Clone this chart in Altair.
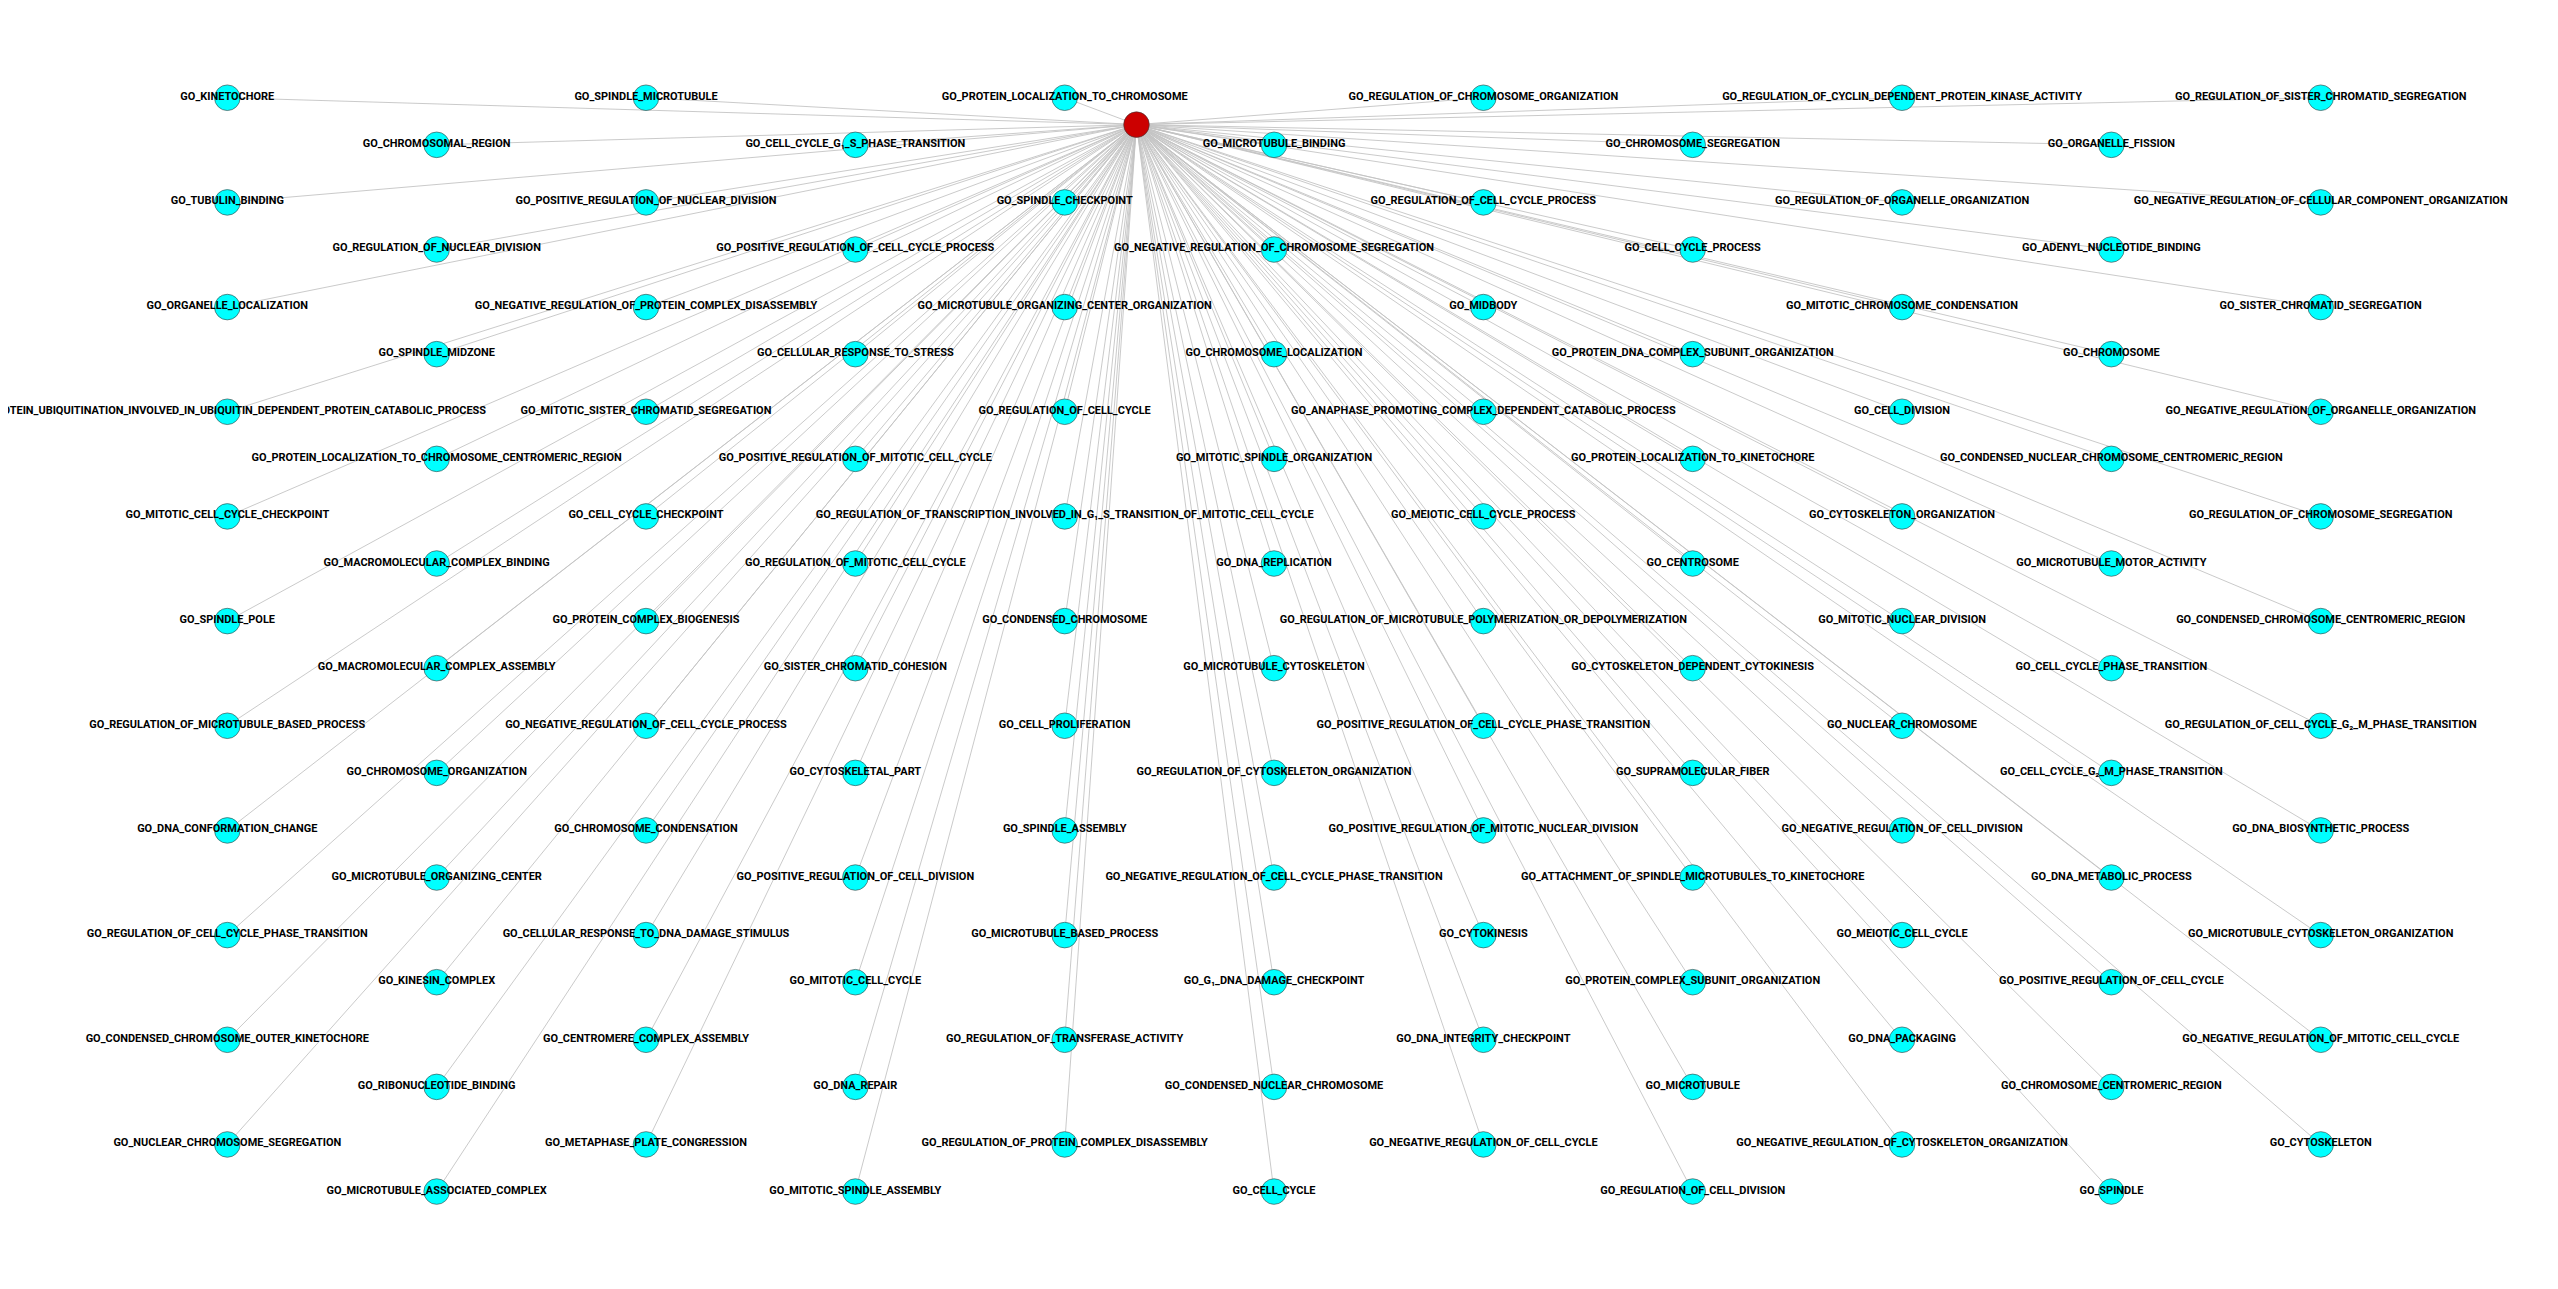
import altair as alt
import pandas as pd

# ---- node names, listed column by column (left to right), top to bottom ----
col1 = ["GO_KINETOCHORE", "GO_TUBULIN_BINDING", "GO_ORGANELLE_LOCALIZATION",
        "GO_PROTEIN_UBIQUITINATION_INVOLVED_IN_UBIQUITIN_DEPENDENT_PROTEIN_CATABOLIC_PROCESS",
        "GO_MITOTIC_CELL_CYCLE_CHECKPOINT", "GO_SPINDLE_POLE",
        "GO_REGULATION_OF_MICROTUBULE_BASED_PROCESS", "GO_DNA_CONFORMATION_CHANGE",
        "GO_REGULATION_OF_CELL_CYCLE_PHASE_TRANSITION",
        "GO_CONDENSED_CHROMOSOME_OUTER_KINETOCHORE", "GO_NUCLEAR_CHROMOSOME_SEGREGATION"]
col2 = ["GO_CHROMOSOMAL_REGION", "GO_REGULATION_OF_NUCLEAR_DIVISION", "GO_SPINDLE_MIDZONE",
        "GO_PROTEIN_LOCALIZATION_TO_CHROMOSOME_CENTROMERIC_REGION",
        "GO_MACROMOLECULAR_COMPLEX_BINDING", "GO_MACROMOLECULAR_COMPLEX_ASSEMBLY",
        "GO_CHROMOSOME_ORGANIZATION", "GO_MICROTUBULE_ORGANIZING_CENTER",
        "GO_KINESIN_COMPLEX", "GO_RIBONUCLEOTIDE_BINDING", "GO_MICROTUBULE_ASSOCIATED_COMPLEX"]
col3 = ["GO_SPINDLE_MICROTUBULE", "GO_POSITIVE_REGULATION_OF_NUCLEAR_DIVISION",
        "GO_NEGATIVE_REGULATION_OF_PROTEIN_COMPLEX_DISASSEMBLY",
        "GO_MITOTIC_SISTER_CHROMATID_SEGREGATION", "GO_CELL_CYCLE_CHECKPOINT",
        "GO_PROTEIN_COMPLEX_BIOGENESIS", "GO_NEGATIVE_REGULATION_OF_CELL_CYCLE_PROCESS",
        "GO_CHROMOSOME_CONDENSATION", "GO_CELLULAR_RESPONSE_TO_DNA_DAMAGE_STIMULUS",
        "GO_CENTROMERE_COMPLEX_ASSEMBLY", "GO_METAPHASE_PLATE_CONGRESSION"]
col4 = ["GO_CELL_CYCLE_G\u2081_S_PHASE_TRANSITION", "GO_POSITIVE_REGULATION_OF_CELL_CYCLE_PROCESS",
        "GO_CELLULAR_RESPONSE_TO_STRESS", "GO_POSITIVE_REGULATION_OF_MITOTIC_CELL_CYCLE",
        "GO_REGULATION_OF_MITOTIC_CELL_CYCLE", "GO_SISTER_CHROMATID_COHESION",
        "GO_CYTOSKELETAL_PART", "GO_POSITIVE_REGULATION_OF_CELL_DIVISION",
        "GO_MITOTIC_CELL_CYCLE", "GO_DNA_REPAIR", "GO_MITOTIC_SPINDLE_ASSEMBLY"]
col5 = ["GO_PROTEIN_LOCALIZATION_TO_CHROMOSOME", "GO_SPINDLE_CHECKPOINT",
        "GO_MICROTUBULE_ORGANIZING_CENTER_ORGANIZATION", "GO_REGULATION_OF_CELL_CYCLE",
        "GO_REGULATION_OF_TRANSCRIPTION_INVOLVED_IN_G\u2081_S_TRANSITION_OF_MITOTIC_CELL_CYCLE",
        "GO_CONDENSED_CHROMOSOME", "GO_CELL_PROLIFERATION", "GO_SPINDLE_ASSEMBLY",
        "GO_MICROTUBULE_BASED_PROCESS", "GO_REGULATION_OF_TRANSFERASE_ACTIVITY",
        "GO_REGULATION_OF_PROTEIN_COMPLEX_DISASSEMBLY"]
col6 = ["GO_MICROTUBULE_BINDING", "GO_NEGATIVE_REGULATION_OF_CHROMOSOME_SEGREGATION",
        "GO_CHROMOSOME_LOCALIZATION", "GO_MITOTIC_SPINDLE_ORGANIZATION", "GO_DNA_REPLICATION",
        "GO_MICROTUBULE_CYTOSKELETON", "GO_REGULATION_OF_CYTOSKELETON_ORGANIZATION",
        "GO_NEGATIVE_REGULATION_OF_CELL_CYCLE_PHASE_TRANSITION",
        "GO_G\u2081_DNA_DAMAGE_CHECKPOINT", "GO_CONDENSED_NUCLEAR_CHROMOSOME", "GO_CELL_CYCLE"]
col7 = ["GO_REGULATION_OF_CHROMOSOME_ORGANIZATION", "GO_REGULATION_OF_CELL_CYCLE_PROCESS",
        "GO_MIDBODY", "GO_ANAPHASE_PROMOTING_COMPLEX_DEPENDENT_CATABOLIC_PROCESS",
        "GO_MEIOTIC_CELL_CYCLE_PROCESS",
        "GO_REGULATION_OF_MICROTUBULE_POLYMERIZATION_OR_DEPOLYMERIZATION",
        "GO_POSITIVE_REGULATION_OF_CELL_CYCLE_PHASE_TRANSITION",
        "GO_POSITIVE_REGULATION_OF_MITOTIC_NUCLEAR_DIVISION", "GO_CYTOKINESIS",
        "GO_DNA_INTEGRITY_CHECKPOINT", "GO_NEGATIVE_REGULATION_OF_CELL_CYCLE"]
col8 = ["GO_CHROMOSOME_SEGREGATION", "GO_CELL_CYCLE_PROCESS",
        "GO_PROTEIN_DNA_COMPLEX_SUBUNIT_ORGANIZATION", "GO_PROTEIN_LOCALIZATION_TO_KINETOCHORE",
        "GO_CENTROSOME", "GO_CYTOSKELETON_DEPENDENT_CYTOKINESIS", "GO_SUPRAMOLECULAR_FIBER",
        "GO_ATTACHMENT_OF_SPINDLE_MICROTUBULES_TO_KINETOCHORE",
        "GO_PROTEIN_COMPLEX_SUBUNIT_ORGANIZATION", "GO_MICROTUBULE",
        "GO_REGULATION_OF_CELL_DIVISION"]
col9 = ["GO_REGULATION_OF_CYCLIN_DEPENDENT_PROTEIN_KINASE_ACTIVITY",
        "GO_REGULATION_OF_ORGANELLE_ORGANIZATION", "GO_MITOTIC_CHROMOSOME_CONDENSATION",
        "GO_CELL_DIVISION", "GO_CYTOSKELETON_ORGANIZATION", "GO_MITOTIC_NUCLEAR_DIVISION",
        "GO_NUCLEAR_CHROMOSOME", "GO_NEGATIVE_REGULATION_OF_CELL_DIVISION",
        "GO_MEIOTIC_CELL_CYCLE", "GO_DNA_PACKAGING",
        "GO_NEGATIVE_REGULATION_OF_CYTOSKELETON_ORGANIZATION"]
col10 = ["GO_ORGANELLE_FISSION", "GO_ADENYL_NUCLEOTIDE_BINDING", "GO_CHROMOSOME",
         "GO_CONDENSED_NUCLEAR_CHROMOSOME_CENTROMERIC_REGION", "GO_MICROTUBULE_MOTOR_ACTIVITY",
         "GO_CELL_CYCLE_PHASE_TRANSITION", "GO_CELL_CYCLE_G\u2082_M_PHASE_TRANSITION",
         "GO_DNA_METABOLIC_PROCESS", "GO_POSITIVE_REGULATION_OF_CELL_CYCLE",
         "GO_CHROMOSOME_CENTROMERIC_REGION", "GO_SPINDLE"]
col11 = ["GO_REGULATION_OF_SISTER_CHROMATID_SEGREGATION",
         "GO_NEGATIVE_REGULATION_OF_CELLULAR_COMPONENT_ORGANIZATION",
         "GO_SISTER_CHROMATID_SEGREGATION", "GO_NEGATIVE_REGULATION_OF_ORGANELLE_ORGANIZATION",
         "GO_REGULATION_OF_CHROMOSOME_SEGREGATION", "GO_CONDENSED_CHROMOSOME_CENTROMERIC_REGION",
         "GO_REGULATION_OF_CELL_CYCLE_G\u2082_M_PHASE_TRANSITION", "GO_DNA_BIOSYNTHETIC_PROCESS",
         "GO_MICROTUBULE_CYTOSKELETON_ORGANIZATION",
         "GO_NEGATIVE_REGULATION_OF_MITOTIC_CELL_CYCLE", "GO_CYTOSKELETON"]

columns = [col1, col2, col3, col4, col5, col6, col7, col8, col9, col10, col11]

# layout (grid units): every other column is shifted down by a fraction of a row
row_shift = 0.45
hub_col, hub_row = 4.343, 0.257

rows = []
for ci, names in enumerate(columns):
    for ri, name in enumerate(names):
        rows.append({"name": name, "gx": ci, "gy": ri + (row_shift if ci % 2 else 0.0),
                     "hx": hub_col, "hy": hub_row})
nodes = pd.DataFrame(rows)
hub = pd.DataFrame([{"gx": hub_col, "gy": hub_row}])

W, H = 2550, 1281
xmin = -220 / 210
xmax = xmin + W / 210
ymin = -88 / 105
ymax = ymin + H / 105

xs = alt.Scale(domain=[xmin, xmax], zero=False, nice=False)
ys = alt.Scale(domain=[ymin, ymax], zero=False, nice=False, reverse=True)

base = alt.Chart(nodes)

edges = base.mark_rule(stroke="#c4c4c4", strokeWidth=0.9).encode(
    x=alt.X("hx:Q", scale=xs, axis=None),
    y=alt.Y("hy:Q", scale=ys, axis=None),
    x2="gx:Q", y2="gy:Q",
)

circles = base.mark_point(shape="circle", filled=True, size=660, fill="#00ffff",
                          stroke="#3a3a3a", strokeWidth=0.6, opacity=1).encode(
    x=alt.X("gx:Q", scale=xs, axis=None),
    y=alt.Y("gy:Q", scale=ys, axis=None),
)

hubmark = alt.Chart(hub).mark_point(shape="circle", filled=True, size=660, fill="#cc0000",
                                   stroke="#3a3a3a", strokeWidth=0.6, opacity=1).encode(
    x=alt.X("gx:Q", scale=xs, axis=None),
    y=alt.Y("gy:Q", scale=ys, axis=None),
)

labels = base.mark_text(font="Roboto", fontWeight="bold", fontSize=11,
                        color="#000000", align="center", baseline="middle", dy=-1).encode(
    x=alt.X("gx:Q", scale=xs, axis=None),
    y=alt.Y("gy:Q", scale=ys, axis=None),
    text="name:N",
)

chart = alt.layer(edges, circles, hubmark, labels).properties(
    width=W, height=H,
    autosize=alt.AutoSizeParams(type="none"),
    padding=0,
    background="white",
).configure_view(stroke=None)

chart.save("out.html", embed_options={"renderer": "svg", "actions": False})
